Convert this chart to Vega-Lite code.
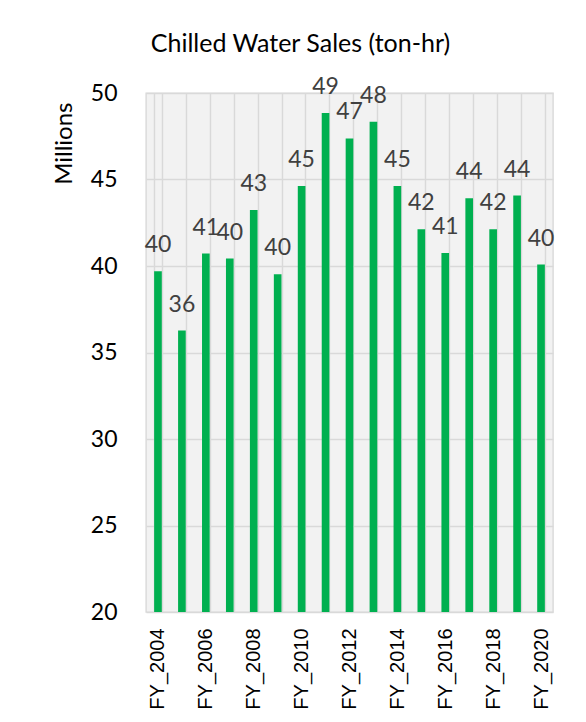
{
  "$schema": "https://vega.github.io/schema/vega-lite/v6.json",
  "width": 407,
  "height": 519,
  "autosize": "none",
  "padding": {"left": 146, "top": 93, "right": 33, "bottom": 110},
  "background": "white",
  "title": {
    "text": "Chilled Water Sales (ton-hr)",
    "font": "Lato",
    "fontSize": 25,
    "fontWeight": "normal",
    "color": "#000000",
    "anchor": "middle",
    "frame": "group",
    "dx": -49,
    "dy": 41,
    "baseline": "alphabetic",
    "offset": 40
  },
  "data": {
    "values": [
      {"fy": "FY_2004", "v": 39.69},
      {"fy": "FY_2005", "v": 36.27},
      {"fy": "FY_2006", "v": 40.72},
      {"fy": "FY_2007", "v": 40.43},
      {"fy": "FY_2008", "v": 43.23},
      {"fy": "FY_2009", "v": 39.52},
      {"fy": "FY_2010", "v": 44.62},
      {"fy": "FY_2011", "v": 48.84},
      {"fy": "FY_2012", "v": 47.37},
      {"fy": "FY_2013", "v": 48.34},
      {"fy": "FY_2014", "v": 44.62},
      {"fy": "FY_2015", "v": 42.13},
      {"fy": "FY_2016", "v": 40.75},
      {"fy": "FY_2017", "v": 43.91},
      {"fy": "FY_2018", "v": 42.12},
      {"fy": "FY_2019", "v": 44.07},
      {"fy": "FY_2020", "v": 40.08}
    ]
  },
  "encoding": {
    "x": {
      "field": "fy",
      "type": "nominal",
      "sort": null,
      "scale": {"paddingInner": 0.68, "paddingOuter": 0.34},
      "axis": {
        "title": null,
        "labelAngle": -90,
        "labelAlign": "right",
        "labelBaseline": "middle",
        "labelFont": "Liberation Sans",
        "labelFontSize": 20,
        "labelColor": "#000000",
        "labelPadding": 16,
        "labelOverlap": false,
        "labelExpr": "toNumber(substring(datum.label, 3)) % 2 == 0 ? datum.label : ''",
        "ticks": false,
        "domain": false,
        "grid": true,
        "gridColor": "#d9d9d9",
        "gridWidth": 1.4,
        "tickBand": "extent"
      }
    },
    "y": {
      "field": "v",
      "type": "quantitative",
      "scale": {"domain": [20, 50], "nice": false, "zero": false},
      "axis": {
        "values": [20, 25, 30, 35, 40, 45, 50],
        "title": "Millions",
        "titleFont": "Lato",
        "titleFontSize": 24,
        "titleFontWeight": "normal",
        "titleColor": "#000000",
        "titleAngle": -90,
        "titleAlign": "right",
        "titleBaseline": "middle",
        "titleX": -82,
        "titleY": 9,
        "labelFont": "Lato",
        "labelFontSize": 23,
        "labelColor": "#000000",
        "labelPadding": 29,
        "ticks": false,
        "domain": false,
        "grid": true,
        "gridColor": "#d9d9d9",
        "gridWidth": 1.4
      }
    }
  },
  "layer": [
    {"mark": {"type": "bar", "color": "#00b050", "clip": true}},
    {
      "mark": {
        "type": "text",
        "font": "Lato",
        "fontSize": 23,
        "color": "#404040",
        "baseline": "alphabetic",
        "dy": -19
      },
      "encoding": {"text": {"field": "v", "type": "quantitative", "format": ".0f"}}
    }
  ],
  "config": {
    "view": {"fill": "#f2f2f2", "stroke": "#d9d9d9", "strokeWidth": 1.4}
  }
}
